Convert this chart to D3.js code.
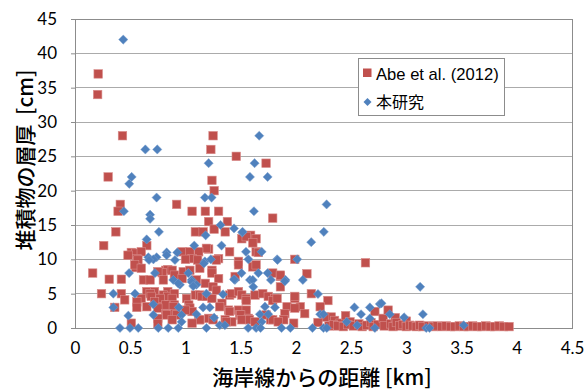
<!DOCTYPE html>
<html><head><meta charset="utf-8">
<script src="https://cdn.jsdelivr.net/npm/d3@7"></script>
<style>
html,body{margin:0;padding:0;background:#fff;overflow:hidden}
svg{display:block}
</style></head>
<body>
<script>
// ---- data ----
const xTicks = [0, 0.5, 1, 1.5, 2, 2.5, 3, 3.5, 4, 4.5];
const yTicks = [0, 5, 10, 15, 20, 25, 30, 35, 40, 45];
const seriesNames = ["Abe et al. (2012)", "本研究"];
const xTitle = "海岸線からの距離 [km]";
const yTitle = "堆積物の層厚\u00a0 [cm]";

// Abe et al. (2012): [distance km, thickness cm]
const abePoints = [
[0.21,37],[0.205,34],[0.43,28],[1.25,28],[1.23,26],[1.46,25],[1.73,24],[0.3,22],[1.24,21.5],[1.26,20],
[0.41,18],[0.92,18],[0.39,17],[1.06,17],[1.18,17],[1.3,17],[1.79,16],[1.21,15.5],[1.38,15.5],[1.26,14.4],
[0.37,14],[1.09,14],[1.16,14],[1.36,14],[1.51,13],[1.59,13.5],[1.64,13],[1.55,13.3],[1.61,12.4],[0.26,12],
[0.65,12],[1.21,11.5],[1.19,11.6],[0.51,11],[0.55,10.9],[0.6,11.1],[0.97,11.1],[1.04,11.1],[1.12,11.1],[1.4,11.1],
[1.64,11.1],[1.66,11],[0.56,10.1],[0.57,9.9],[0.48,10.6],[1.06,10.1],[1.3,10.1],[1.11,9.9],[1.28,9.9],[1.0,10],
[1.99,10],[2.63,9.5],[1.48,9.7],[1.63,9],[1.61,8.9],[0.55,8.8],[0.54,9.2],[1.13,8.7],[0.6,8.7],[1.48,9.2],
[1.64,9.2],[0.16,8],[0.82,8.4],[0.84,8.5],[0.79,8.05],[0.75,8.2],[0.88,8.4],[0.98,8.2],[1.04,8.4],[1.24,8.4],
[1.24,8],[0.31,7.1],[0.42,7.1],[0.62,7],[0.68,7],[0.8,7],[0.9,7.7],[0.97,7.2],[1.1,7],[1.3,7.2],
[1.45,7.5],[1.79,8],[1.86,7.5],[1.86,7.7],[2.1,7.9],[1.18,6.5],[1.25,6],[1.86,6],[0.24,5],[0.42,5],
[0.65,5.3],[0.72,5.3],[0.68,5],[0.84,5.3],[0.8,4.8],[0.84,4.6],[0.9,5],[0.69,4.6],[1.01,4.3],[1.09,4.8],
[1.13,4.8],[1.15,4.6],[1.19,4.6],[1.24,4.3],[1.28,5.5],[1.4,4.8],[1.42,5],[1.48,5.3],[1.51,4.8],[1.55,4.3],
[1.63,4.8],[1.7,5],[1.75,4.6],[1.81,4.3],[1.99,4.3],[2.14,5],[0.45,4.1],[0.6,4.3],[0.77,4.1],[0.77,4.3],
[0.88,4.3],[0.72,3.8],[0.56,3.8],[1.55,4],[1.79,4],[1.83,4.3],[1.99,4.6],[2.29,4],[1.33,3.6],[0.36,3],
[0.56,3],[0.65,3.1],[0.82,3.35],[0.9,3.35],[0.89,3.1],[1.03,3.35],[1.04,2.9],[1.31,3.1],[0.75,2.9],[2.04,3.1],
[1.92,3.1],[2.22,3.1],[1.99,2.9],[1.39,2.6],[1.48,2.6],[1.55,2.6],[1.06,2.4],[1.4,2.4],[0.82,2.1],[0.9,2.1],
[1.0,2.6],[2.08,2.1],[1.9,2.1],[0.83,1.9],[0.92,1.9],[1.49,1.9],[1.5,1.9],[1.73,1.9],[0.75,1.4],[1.21,1.4],
[1.57,1.4],[0.88,1.2],[1.12,1.2],[1.13,1.2],[1.25,1.2],[1.36,1.2],[1.51,1.2],[1.58,1.2],[1.77,1.2],[1.79,1.2],
[1.89,1.2],[1.42,0.9],[1.63,0.9],[1.84,0.9],[1.37,0.9],[1.06,0.7],[0.51,0.7],[0.75,0.6],[1.98,0.7],[2.32,1.6],
[2.26,1.6],[2.35,1.1],[2.2,0.8],[2.3,0.3],[2.4,0.7],[2.34,0.5],[2.45,1.8],[2.49,0.9],[2.38,0.3],[2.43,0.2],
[2.47,0.5],[2.52,0.3],[2.57,0.6],[2.6,0.2],[2.64,0.4],[2.68,0.8],[2.7,0.2],[2.715,2.4],[2.74,0.5],[2.79,1.4],
[2.8,0.3],[2.835,2.6],[2.86,0.6],[2.88,0.2],[2.9,1.5],[2.91,0.8],[2.94,0.3],[2.97,0.5],[3.0,1.0],[3.0,0.2],
[3.03,0.4],[3.06,0.3],[3.09,0.2],[3.12,0.4],[3.15,0.2],[3.2,0.3],[3.24,0.2],[3.28,0.3],[3.32,0.2],[3.36,0.3],
[3.4,0.2],[3.44,0.2],[3.48,0.3],[3.52,0.2],[3.56,0.2],[3.6,0.3],[3.64,0.2],[3.68,0.2],[3.72,0.3],[3.76,0.2],
[3.8,0.2],[3.84,0.3],[3.88,0.2],[3.93,0.2]
];

// 本研究: [distance km, thickness cm]
const studyPoints = [
[0.437,42],[0.637,26],[0.745,26],[1.668,28],[1.21,24],[1.626,24],[1.584,22],[1.744,22],[0.513,22],[0.491,21],
[0.739,19],[1.176,19],[1.237,19],[2.278,18],[1.62,17],[0.443,17],[0.68,16.5],[0.68,15.9],[1.318,15],[1.44,14.5],
[1.514,13.9],[0.76,14],[2.253,14],[1.517,14],[1.183,13.5],[0.649,12.9],[2.139,12.5],[1.08,12],[1.327,12],[0.83,11],
[0.926,11],[1.548,11.1],[1.69,11.1],[0.664,10.3],[0.739,10.3],[0.71,10],[1.57,10],[2.012,10],[1.83,10],[0.67,9.9],
[0.83,10.6],[0.905,9.9],[1.176,9.7],[1.167,9.4],[1.23,10],[1.834,9.9],[0.49,8],[0.724,8],[1.026,8],[1.508,8],
[1.66,8],[1.744,8],[0.89,7],[1.056,7],[1.056,6.7],[1.448,7],[1.44,7.1],[1.584,7],[1.61,7],[1.774,7],
[1.906,7],[2.063,7],[1.9,6.8],[0.95,6.3],[0.935,6.5],[1.1,6.3],[1.07,6.1],[1.614,6],[3.125,6],[0.347,5],
[0.543,5],[1.19,5],[1.34,4.9],[2.2,4.95],[0.709,3.45],[2.76,3.5],[2.775,3.6],[0.347,3],[0.94,3],[1.16,3],
[1.22,3],[1.72,3.1],[1.81,3],[2.53,3],[2.67,3],[0.483,1.8],[0.709,1.9],[0.965,1.9],[1.1,2],[1.674,2],
[1.75,2],[2.22,2],[2.25,2],[2.59,2],[2.85,2],[3.15,2],[1.26,1.5],[2.67,1.4],[2.98,1.55],[0.965,0.9],
[1.69,0.9],[2.46,0.9],[1.31,0.4],[1.357,0.4],[2.555,0.4],[3.52,0.4],[0.407,0],[0.498,0],[0.573,0],[0.754,0],
[0.844,0],[0.935,0],[1.19,0],[1.568,0],[1.64,0],[1.68,0],[1.87,0],[1.95,0],[2.15,0],[2.25,0],
[2.28,0],[2.715,0],[3.18,0],[3.21,0]
];

// ---- layout ----
const W = 586, H = 391;
const M = {left: 75, right: 14, top: 19, bottom: 63};
const svg = d3.select("body").append("svg").attr("width", W).attr("height", H);

const x = d3.scaleLinear().domain([0, 4.5]).range([M.left, W - M.right]);
const y = d3.scaleLinear().domain([0, 45]).range([H - M.bottom, M.top]);

const numFont = "Lato, 'Open Sans', sans-serif";
const cjkFont = "'Noto Sans CJK JP', 'Noto Sans', sans-serif";

// gridlines
svg.append("g").selectAll("line").data(yTicks.filter(d => d > 0)).join("line")
  .attr("x1", x(0)).attr("x2", x(4.5))
  .attr("y1", d => y(d)).attr("y2", d => y(d))
  .attr("stroke", "#ababab").attr("stroke-width", 1).attr("shape-rendering", "crispEdges");

// plot border
svg.append("rect").attr("x", x(0)).attr("y", y(45))
  .attr("width", x(4.5) - x(0)).attr("height", y(0) - y(45))
  .attr("fill", "none").attr("stroke", "#8c8c8c").attr("shape-rendering", "crispEdges");

// y axis
const yAxis = svg.append("g").attr("transform", `translate(${x(0)},0)`)
  .call(d3.axisLeft(y).tickValues(yTicks).tickSize(4).tickPadding(14).tickFormat(d3.format("d")));
yAxis.select(".domain").attr("stroke", "#8c8c8c");
yAxis.selectAll(".tick line").attr("stroke", "#8c8c8c");
yAxis.selectAll("text").attr("font-family", numFont).attr("font-size", 17).attr("fill", "#000");

// x axis
const xAxis = svg.append("g").attr("transform", `translate(0,${y(0)})`)
  .call(d3.axisBottom(x).tickValues(xTicks).tickSize(0).tickPadding(14).tickFormat(d => String(d)));
xAxis.select(".domain").attr("stroke", "#8c8c8c");
xAxis.selectAll("text").attr("font-family", numFont).attr("font-size", 17).attr("fill", "#000");

// red squares
const sq = 8.5;
svg.append("g").selectAll("rect").data(abePoints).join("rect")
  .attr("x", d => x(d[0]) - sq / 2).attr("y", d => y(d[1]) - sq / 2)
  .attr("width", sq).attr("height", sq)
  .attr("fill", "#c0504d").attr("stroke", "#d98c8a").attr("stroke-width", 0.6);

// blue diamonds
const dr = 4.6;
const diamond = (cx, cy) => `M${cx},${cy - dr}L${cx + dr},${cy}L${cx},${cy + dr}L${cx - dr},${cy}Z`;
svg.append("g").selectAll("path").data(studyPoints).join("path")
  .attr("d", d => diamond(x(d[0]), y(d[1])))
  .attr("fill", "#4f81bd").attr("stroke", "#7da0cf").attr("stroke-width", 0.5);

// legend
const lg = svg.append("g");
lg.append("rect").attr("x", 358.5).attr("y", 58.5).attr("width", 146).attr("height", 57)
  .attr("fill", "#fff").attr("stroke", "#8c8c8c");
lg.append("rect").attr("x", 363).attr("y", 68.5).attr("width", 8.5).attr("height", 8.5).attr("fill", "#c0504d");
lg.append("text").attr("x", 376).attr("y", 80).text(seriesNames[0])
  .attr("font-family", "'Liberation Sans', Arial, sans-serif").attr("font-size", 16.6).attr("fill", "#000");
lg.append("path").attr("d", (() => { const cx = 367.5, cy = 102, r = 4; return `M${cx},${cy - r}L${cx + r},${cy}L${cx},${cy + r}L${cx - r},${cy}Z`; })())
  .attr("fill", "#4f81bd");
lg.append("text").attr("x", 376).attr("y", 108).text(seriesNames[1])
  .attr("font-family", cjkFont).attr("font-size", 16).attr("fill", "#000");

// axis titles
svg.append("text").attr("transform", `translate(33,160) rotate(-90)`)
  .attr("text-anchor", "middle").text(yTitle)
  .attr("font-family", cjkFont).attr("font-size", 21).attr("font-weight", 500).attr("fill", "#000");
svg.append("text").attr("x", 322).attr("y", 385)
  .attr("text-anchor", "middle").text(xTitle)
  .attr("font-family", cjkFont).attr("font-size", 21).attr("font-weight", 500).attr("fill", "#000");
</script>
</body></html>
